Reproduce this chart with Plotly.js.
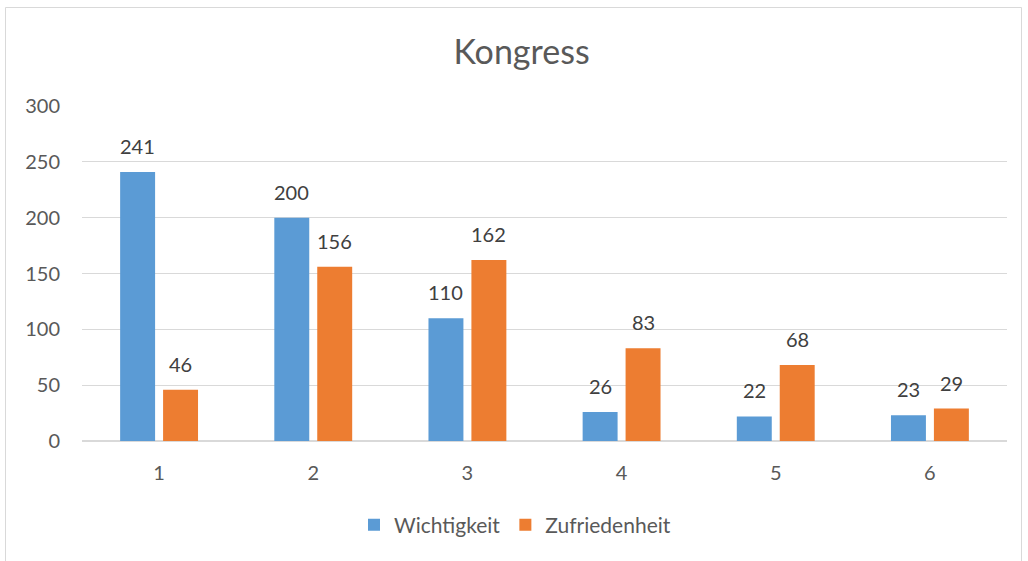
<!DOCTYPE html>
<html>
<head>
<meta charset="utf-8">
<script src="https://cdn.plot.ly/plotly-3.0.1.min.js"></script>
<style>html,body{margin:0;padding:0;background:#fff;}#chart{width:1028px;height:561px;}</style>
</head>
<body>
<div id="chart"></div>
<script>
const categories = ["1", "2", "3", "4", "5", "6"];
const wichtigkeit = [241, 200, 110, 26, 22, 23];
const zufriedenheit = [46, 156, 162, 83, 68, 29];
const seriesNames = ["Wichtigkeit", "Zufriedenheit"];
const yTicks = [0, 50, 100, 150, 200, 250, 300];

const font = "Lato, 'Open Sans', sans-serif";
function barTrace(name, values, color) {
  return {
    type: "bar", name: name, x: categories, y: values,
    marker: {color: color},
    hoverinfo: "none"
  };
}
const data = [
  barTrace(seriesNames[0], wichtigkeit, "#5B9BD5"),
  barTrace(seriesNames[1], zufriedenheit, "#ED7D31")
];
// category axis: annotation x given as category index
function labels(values, shift) {
  return values.map((v, i) => ({
    x: i, y: v, xref: "x", yref: "y", text: String(v), showarrow: false,
    xanchor: "center", yanchor: "bottom", xshift: shift, yshift: 12,
    font: {family: font, size: 20, color: "#404040"}
  }));
}
const layout = {
  width: 1028, height: 561,
  margin: {l: 82, r: 21, t: 106, b: 120},
  paper_bgcolor: "#fff", plot_bgcolor: "#fff",
  font: {family: font, color: "#595959", size: 20},
  title: {text: "Kongress", font: {family: font, size: 34, color: "#595959"}, xref: "paper", x: (521.5 - 82) / 925, xanchor: "center", y: 0.907, yanchor: "middle"},
  barmode: "group", bargap: 0.443, bargroupgap: 0.186,
  xaxis: {type: "category", range: [-0.5, categories.length - 0.5], showgrid: false, showline: false, zeroline: false,
          ticks: "", ticklabelstandoff: 18, tickfont: {family: font, size: 20, color: "#595959"}},
  yaxis: {range: [0, 300], tickvals: yTicks, showgrid: true, gridcolor: "#D9D9D9", gridwidth: 1,
          zeroline: true, zerolinecolor: "#D9D9D9", zerolinewidth: 1.5, showline: false, ticks: "",
          ticklabelstandoff: 21, tickfont: {family: font, size: 20, color: "#595959"}},
  showlegend: true,
  legend: {orientation: "h", x: (354 - 82) / 925, xanchor: "left", y: (441 - 525) / 335, yanchor: "middle",
           font: {family: font, size: 21, color: "#595959"}, itemwidth: 30, traceorder: "normal"},
  annotations: labels(wichtigkeit, -21.5).concat(labels(zufriedenheit, 21.5)),
  shapes: [{type: "rect", xref: "paper", yref: "paper",
            x0: (5.5 - 82) / 925, x1: (1021.5 - 82) / 925, y0: (441 - 7.5) / 335, y1: (441 - 570) / 335,
            line: {color: "#D9D9D9", width: 1}, fillcolor: "rgba(0,0,0,0)", layer: "below"}]
};
Plotly.newPlot("chart", data, layout, {staticPlot: true, displayModeBar: false});
</script>
</body>
</html>
